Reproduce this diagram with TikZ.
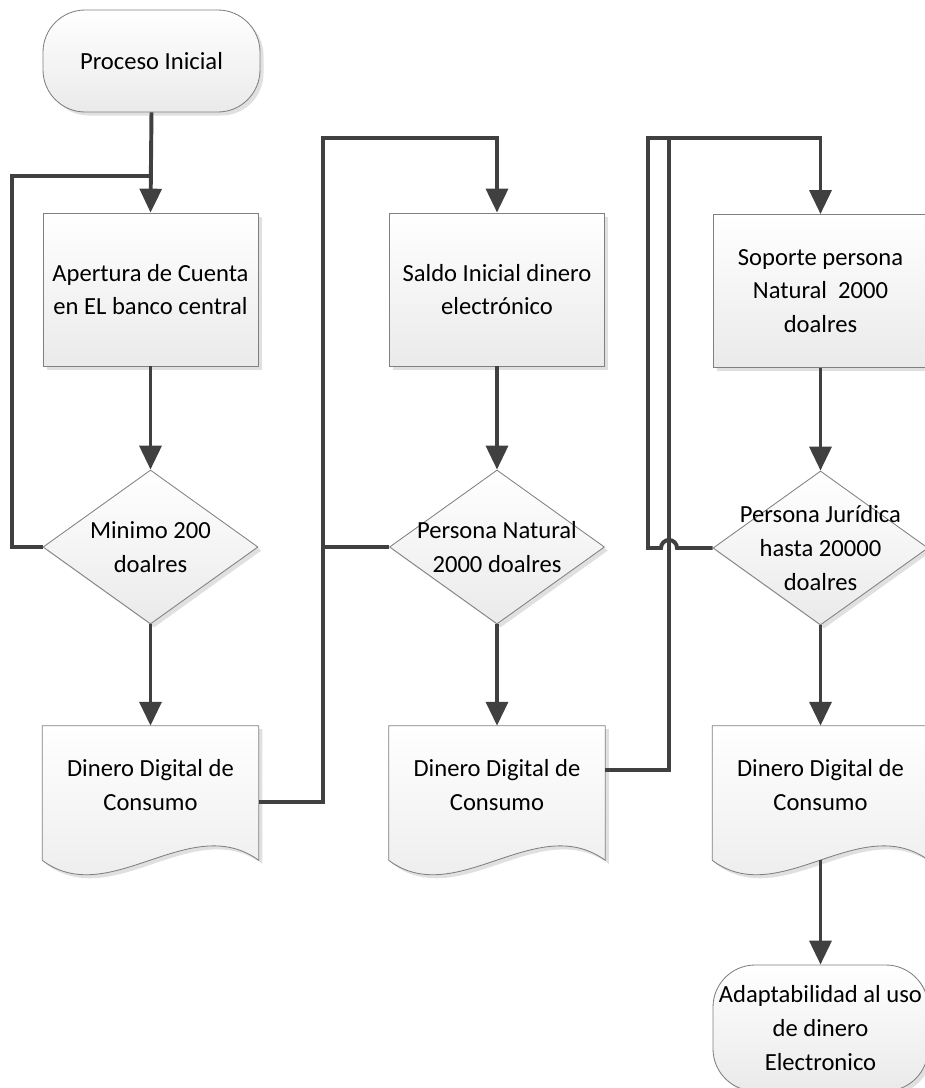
\documentclass[tikz,border=0pt]{standalone}
\usepackage{fontspec}
\setmainfont{Carlito}
\usetikzlibrary{positioning,calc,shapes.geometric,arrows.meta,shadows,backgrounds}

\definecolor{linegray}{HTML}{404040}
\definecolor{bordergray}{HTML}{808080}
\definecolor{fillgray}{HTML}{EAEAEA}

\tikzset{
  shapebase/.style={draw=bordergray, line width=0.6pt, top color=white, bottom color=fillgray,
    drop shadow={shadow xshift=2.5pt, shadow yshift=-2.5pt, opacity=0.12, fill=black}},
  txt/.style={font=\fontsize{17.5}{24}\selectfont, align=center, text=black},
  terminal/.style={shapebase, txt, rectangle, rounded corners=30pt, minimum width=54.25mm, inner sep=0pt},
  process/.style={shapebase, txt, rectangle, minimum width=53.75mm, minimum height=38.25mm, inner sep=0pt},
  decision/.style={shapebase, diamond, minimum width=53.75mm, minimum height=38.5mm, inner sep=0pt},
  docbox/.style={txt, rectangle, minimum width=54mm, minimum height=29.5mm, inner sep=0pt},
  line/.style={draw=linegray, line width=2.8pt},
  flow/.style={line, -{Triangle[length=17pt,width=15.5pt]}},
}

% outline of a document shape around a node
\newcommand{\docoutline}[1]{%
  \path[shapebase] (#1.north west) -- (#1.north east) -- ([yshift=-11.4pt]#1.south east)
    .. controls +(-69,-50) and +(67,50) .. ([yshift=-11.4pt]#1.south west) -- cycle;}

\begin{document}
\begin{tikzpicture}[x=0.25mm,y=-0.25mm]
  \useasboundingbox (0,0) rectangle (925,1088);
  \clip (0,0) rectangle (925,1088);

  % first column
  \node[terminal, minimum height=25.5mm] (start) at (151.5,61) {Proceso Inicial};
  \node[process] (cuenta) at (150.5,289.5) {Apertura de Cuenta\\en EL banco central};
  \node[decision, label={[txt]center:{Minimo 200\\doalres}}] (minimo) at (150.5,547) {};
  \node[docbox] (consumo1) at (150.5,785) {Dinero Digital de\\Consumo};

  % second column
  \node[process] (saldo) at (497,289.5) {Saldo Inicial dinero\\electrónico};
  \node[decision, label={[txt]center:{Persona Natural\\2000 doalres}}] (natural) at (497,547) {};
  \node[docbox] (consumo2) at (497,785) {Dinero Digital de\\Consumo};

  % third column
  \node[process] (soporte) at (820.5,291) {Soporte persona\\Natural\ \ 2000\\doalres};
  \node[decision, label={[txt]center:{Persona Jurídica\\hasta 20000\\doalres}}] (juridica) at (820.5,548) {};
  \node[docbox] (consumo3) at (820.5,785) {Dinero Digital de\\Consumo};
  \node[terminal, minimum height=31.5mm, minimum width=53.75mm] (fin) at (820.5,1028)
    {Adaptabilidad al uso\\de dinero\\Electronico};

  \begin{pgfonlayer}{background}
    \docoutline{consumo1}
    \docoutline{consumo2}
    \docoutline{consumo3}
  \end{pgfonlayer}

  \coordinate (back1) at (12,176);
  \coordinate (turn1) at (323,138);
  \coordinate (turn2) at (669,138);
  \coordinate (turn3) at (648,138);

  \draw[flow] (start.south) -- (cuenta.north);
  \draw[flow] (cuenta.south) -- (minimo.north);
  \draw[flow] (minimo.south) -- (consumo1.north);
  \draw[line] (minimo.west) -| (back1) -- (back1 -| cuenta.north);

  \draw[flow] ([yshift=-12pt]consumo1.east) -| (turn1) -| (saldo.north);
  \draw[flow] (saldo.south) -- (natural.north);
  \draw[flow] (natural.south) -- (consumo2.north);
  \draw[line] (natural.west) -- (natural.west -| turn1);

  \draw[flow] ([yshift=10.7pt]consumo2.east) -| (turn2) -| (soporte.north);
  \draw[flow] (soporte.south) -- (juridica.north);
  \draw[flow] (juridica.south) -- (consumo3.north);
  \draw[line] (juridica.west) -- ([xshift=5.7pt]juridica.west -| turn2)
    arc[start angle=0, end angle=180, radius=5.7pt] -| (turn3) -- (turn2);
  \draw[flow] ([yshift=-11.4pt]consumo3.south) -- (fin.north);
\end{tikzpicture}
\end{document}
